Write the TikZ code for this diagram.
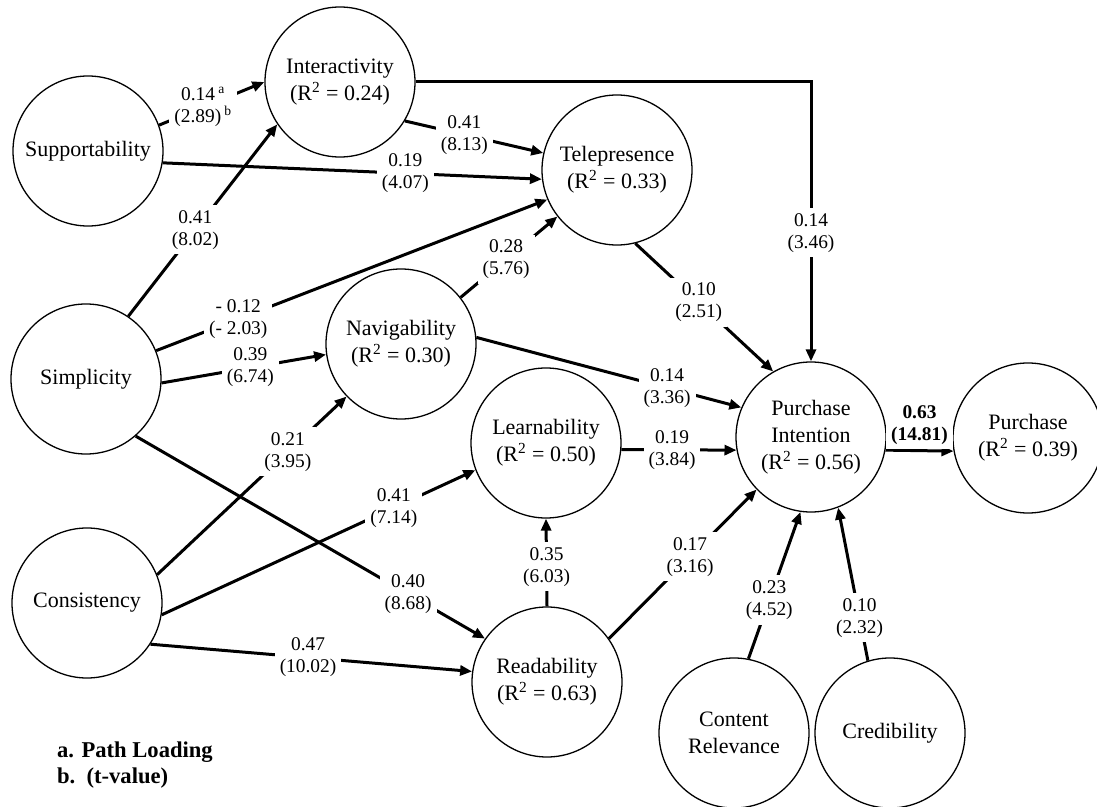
\documentclass[tikz,border=0pt]{standalone}
\usepackage{fontspec}
\setmainfont{Liberation Serif}
\usetikzlibrary{arrows.meta}

\begin{document}
\begin{tikzpicture}[x=0.5pt, y=-0.5pt,
  construct/.style={draw, circle, line width=0.65pt, minimum size=75pt, inner sep=0pt,
    align=center, font=\fontsize{11}{13.5}\selectfont},
  link/.style={line width=1.5pt, -{Triangle[length=6pt, width=5pt]}},
  coef/.style={fill=white, inner sep=2.5pt, align=center, font=\fontsize{9.7}{11}\selectfont}]
\useasboundingbox (0,0) rectangle (1097,807);

% Exogenous constructs
\node[construct] (supp) at (88,151) {Supportability};
\node[construct] (simp) at (86,379) {Simplicity};
\node[construct] (cons) at (87,603) {Consistency};
\node[construct] (cont) at (734,733) {Content\\Relevance};
\node[construct] (cred) at (890,733) {Credibility};

% Endogenous constructs
\node[construct] (inter) at (340,82) {Interactivity\\(R\textsuperscript{2} = 0.24)};
\node[construct] (tele) at (617,170) {Telepresence\\(R\textsuperscript{2} = 0.33)};
\node[construct] (navi) at (401,344) {Navigability\\(R\textsuperscript{2} = 0.30)};
\node[construct] (learn) at (546,443) {Learnability\\(R\textsuperscript{2} = 0.50)};
\node[construct] (read) at (547,682) {Readability\\(R\textsuperscript{2} = 0.63)};
\node[construct] (pint) at (811,437) {Purchase\\Intention\\(R\textsuperscript{2} = 0.56)};
\node[construct] (purch) at (1028,438) {Purchase\\(R\textsuperscript{2} = 0.39)};

% Paths to Interactivity and Telepresence
\draw[link] (supp.20) -- node[coef, pos=0.42] {0.14\,\textsuperscript{a}\\(2.89)\,\textsuperscript{b}} (inter.180);
\draw[link] (simp.56) -- node[coef, pos=0.45] {0.41\\(8.02)} (inter.214);
\draw[link] (supp.-9) -- node[coef, pos=0.64] {0.19\\(4.07)} (tele.187);
\draw[link] (inter.-31) -- node[coef, pos=0.43] {0.41\\(8.13)} (tele.167);
\draw[link] (simp.22) -- node[coef, pos=0.21] {- 0.12\\(- 2.03)} (tele.203);
\draw[link] (navi.38) -- node[coef, pos=0.47] {0.28\\(5.76)} (tele.218);

% Paths to Navigability, Learnability and Readability
\draw[link] (simp.-3) -- node[coef, pos=0.54] {0.39\\(6.74)} (navi.188);
\draw[link] (cons.22) -- node[coef, pos=0.69] {0.21\\(3.95)} (navi.224);
\draw[link] (cons.-9) -- node[coef, pos=0.74] {0.41\\(7.14)} (learn.201);
\draw[link] (simp.-49) -- node[coef, pos=0.78] {0.40\\(8.68)} (read.145);
\draw[link] (cons.-33) -- node[coef, pos=0.49] {0.47\\(10.02)} (read.172);
\draw[link] (read.north) -- node[coef, pos=0.45] {0.35\\(6.03)} (learn.south);

% Paths to Purchase Intention
\draw[link] (inter.east) -| node[coef, pos=0.77] {0.14\\(3.46)} (pint.north);
\draw[link] (tele.-76) -- node[coef, pos=0.46] {0.10\\(2.51)} (pint.120);
\draw[link] (navi.5) -- node[coef, pos=0.72] {0.14\\(3.36)} (pint.157);
\draw[link] (learn.-5) -- node[coef, pos=0.44] {0.19\\(3.84)} (pint.190);
\draw[link] (read.35) -- node[coef, pos=0.55] {0.17\\(3.16)} (pint.224);
\draw[link] (cont.79) -- node[coef, pos=0.4] {0.23\\(4.52)} (pint.262);
\draw[link] (cred.107) -- node[coef, pos=0.28] {0.10\\(2.32)} (pint.291);

% Purchase
\draw[link] (pint.-10) -- node[coef, above, font=\bfseries\fontsize{9.7}{11}\selectfont] {0.63\\(14.81)} (purch.190);

% Legend
\node[anchor=west, align=left, font=\bfseries\fontsize{11.3}{13}\selectfont] (legend) at (50,765) {a. Path Loading\\b.\ \ (t-value)};
\end{tikzpicture}
\end{document}
